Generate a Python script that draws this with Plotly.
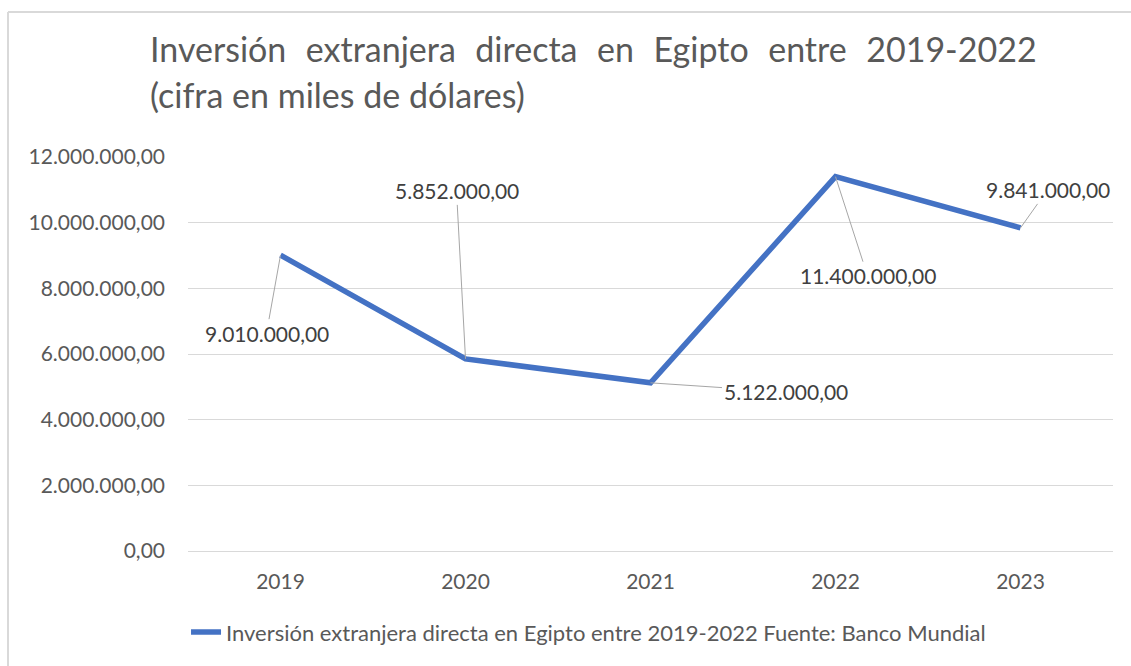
import plotly.graph_objects as go

years = ["2019", "2020", "2021", "2022", "2023"]
values = [9010000, 5852000, 5122000, 11400000, 9841000]
value_labels = ["9.010.000,00", "5.852.000,00", "5.122.000,00", "11.400.000,00", "9.841.000,00"]
tick_vals = [0, 2000000, 4000000, 6000000, 8000000, 10000000, 12000000]
tick_text = ["0,00", "2.000.000,00", "4.000.000,00", "6.000.000,00", "8.000.000,00",
             "10.000.000,00", "12.000.000,00"]
series_name = "Inversión extranjera directa en Egipto entre 2019-2022 Fuente: Banco Mundial"
title_line1 = "Inversión extranjera directa en Egipto entre 2019-2022"
title_line2 = "(cifra en miles de dólares)"

# label offsets (pixels) for leader-line style labels
label_offsets = [(-14, 78), (-9, -168), (135, 9), (32, 99), (27, -38)]

FONT = "Lato, 'Open Sans', sans-serif"

fig = go.Figure()
fig.add_trace(go.Scatter(
    x=years, y=values, mode="lines", name=series_name,
    line=dict(color="#4472C4", width=5.5),
    showlegend=True,
))

annotations = []
for i, (v, lab, (ax, ay)) in enumerate(zip(values, value_labels, label_offsets)):
    annotations.append(dict(
        x=i, y=v, xref="x", yref="y", text=lab,
        showarrow=True, arrowhead=0, arrowwidth=1, arrowcolor="#A6A6A6",
        ax=ax, ay=ay, standoff=0, startstandoff=0,
        font=dict(family=FONT, size=21, color="#404040"),
    ))

sp = "\u00a0\u00a0\u200a"
x0 = (148 - 188) / 925
annotations += [
    dict(x=x0, y=(551 - 48) / 394, xref="paper", yref="paper",
         text=title_line1.replace(" ", sp), showarrow=False,
         xanchor="left", yanchor="middle",
         font=dict(family=FONT, size=34, color="#595959")),
    dict(x=x0, y=(551 - 94) / 394, xref="paper", yref="paper",
         text=title_line2, showarrow=False,
         xanchor="left", yanchor="middle",
         font=dict(family=FONT, size=34, color="#595959")),
]

fig.update_layout(
    width=1131, height=666,
    margin=dict(l=188, r=18, t=157, b=115),
    paper_bgcolor="white", plot_bgcolor="white",
    font=dict(family=FONT, color="#595959"),
    annotations=annotations,
    xaxis=dict(
        type="category", range=[-0.5, 4.5],
        showgrid=False, showline=True, linecolor="#D9D9D9", linewidth=1,
        ticks="", ticklabelstandoff=12, tickfont=dict(size=21, color="#595959"),
    ),
    yaxis=dict(
        range=[0, 12000000], tickvals=tick_vals, ticktext=tick_text,
        showgrid=True, gridcolor="#D9D9D9", gridwidth=1,
        zeroline=False, showline=False, ticks="", ticklabelstandoff=22,
        tickfont=dict(size=21, color="#595959"),
    ),
    legend=dict(
        orientation="h", x=0.433, y=-0.206, xanchor="center", yanchor="middle",
        font=dict(size=22, color="#595959"),
    ),
    showlegend=True,
)

# chart border (top and left edges visible)
fig.add_shape(type="line", xref="paper", yref="paper",
              x0=(8 - 188) / 925, x1=(1135 - 188) / 925,
              y0=(551 - 12) / 394, y1=(551 - 12) / 394,
              line=dict(color="#D9D9D9", width=2))
fig.add_shape(type="line", xref="paper", yref="paper",
              x0=(8 - 188) / 925, x1=(8 - 188) / 925,
              y0=(551 - 12) / 394, y1=(551 - 670) / 394,
              line=dict(color="#D9D9D9", width=2))

fig.write_html("out.html", config={"displayModeBar": False},
               post_script="document.body.style.margin='0';document.body.style.padding='0';")
